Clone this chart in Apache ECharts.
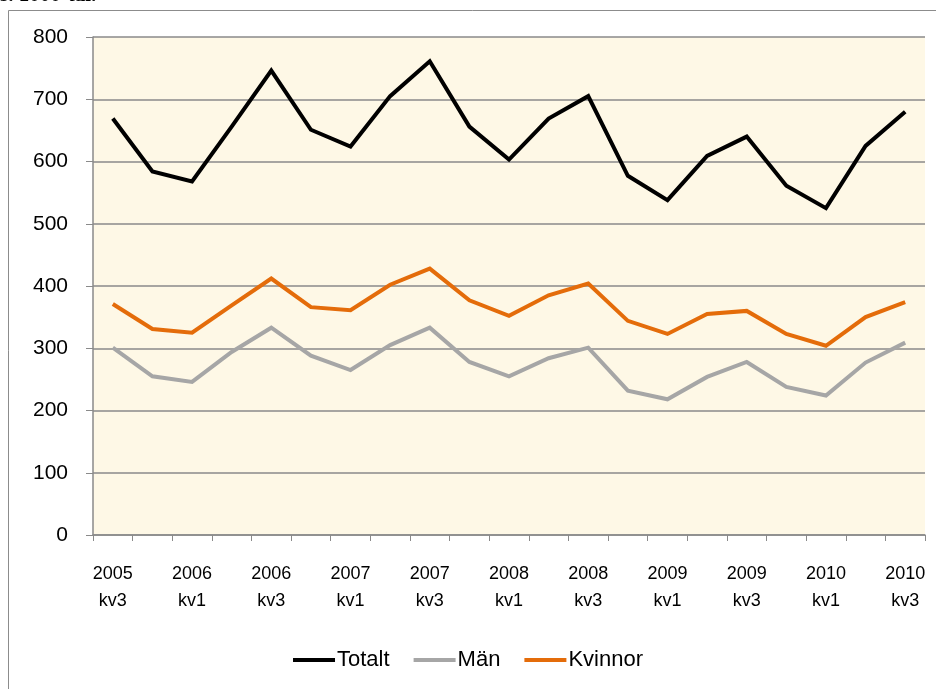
<!DOCTYPE html>
<html>
<head>
<meta charset="utf-8">
<script src="https://cdn.jsdelivr.net/npm/echarts@6/dist/echarts.min.js"></script>
<style>
  html, body { margin: 0; padding: 0; background: #fff; }
  #chart { width: 936px; height: 689px; }
</style>
</head>
<body>
<div id="chart"></div>
<script>
// kvartal 2005 kv3 - 2010 kv3
const categories = [
  '2005\nkv3', '2005\nkv4', '2006\nkv1', '2006\nkv2', '2006\nkv3', '2006\nkv4',
  '2007\nkv1', '2007\nkv2', '2007\nkv3', '2007\nkv4', '2008\nkv1', '2008\nkv2',
  '2008\nkv3', '2008\nkv4', '2009\nkv1', '2009\nkv2', '2009\nkv3', '2009\nkv4',
  '2010\nkv1', '2010\nkv2', '2010\nkv3'
]
const totalt = [669, 584, 568, 656, 746, 651, 624, 705, 761, 656, 603, 669, 705, 577, 538, 609, 640, 561, 525, 625, 680]
const man = [301, 255, 246, 294, 333, 288, 265, 305, 333, 278, 255, 284, 301, 232, 218, 254, 278, 238, 224, 277, 309]
const kvinnor = [371, 331, 325, 369, 412, 366, 361, 402, 428, 377, 352, 385, 404, 344, 323, 355, 360, 323, 304, 350, 374]
const yTicks = { min: 0, max: 800, interval: 100 }

const font = "'Liberation Sans', sans-serif"
const gridColor = '#8a8a8a'

const chart = echarts.init(document.getElementById('chart'))

const mkLine = (name, data, color) => ({
  name,
  type: 'line',
  data,
  symbol: 'none',
  lineStyle: { color, width: 4, join: 'miter' },
  itemStyle: { color }
})

chart.setOption({
  animation: false,
  backgroundColor: '#fff',
  graphic: [
    {
      type: 'rect',
      shape: { x: 8.5, y: 10.5, width: 940, height: 700 },
      style: { fill: 'none', stroke: '#8c8c8c', lineWidth: 1 },
      z: -1
    },
    {
      type: 'text',
      left: 0,
      top: -15,
      style: { text: 's. 1000-tal.', font: "bold 21px 'Liberation Serif', serif", fill: '#000' }
    }
  ],
  grid: {
    left: 93, right: 11, top: 37, bottom: 154,
    show: true,
    backgroundColor: '#fef8e6',
    borderWidth: 0
  },
  legend: {
    bottom: 13,
    left: 'center',
    icon: 'rect',
    itemWidth: 42,
    itemHeight: 4,
    itemGap: 24,
    textStyle: { fontFamily: font, fontSize: 22, color: '#000', padding: [0, 0, 0, -3] },
    data: ['Totalt', 'Män', 'Kvinnor']
  },
  xAxis: {
    type: 'category',
    data: categories,
    boundaryGap: true,
    axisLine: { lineStyle: { color: gridColor, width: 1.5 } },
    axisTick: { show: true, interval: 0, length: 6, lineStyle: { color: gridColor } },
    axisLabel: {
      interval: 1,
      margin: 26,
      fontFamily: font,
      fontSize: 18,
      lineHeight: 27,
      color: '#000'
    },
    splitLine: { show: false }
  },
  yAxis: {
    type: 'value',
    min: yTicks.min,
    max: yTicks.max,
    interval: yTicks.interval,
    axisLine: { show: true, lineStyle: { color: gridColor, width: 1.5 } },
    axisTick: { show: true, length: 7, lineStyle: { color: gridColor } },
    axisLabel: { margin: 25, fontFamily: font, fontSize: 21, color: '#000' },
    splitLine: { lineStyle: { color: gridColor, width: 1.5 } }
  },
  series: [
    mkLine('Totalt', totalt, '#000000'),
    mkLine('Män', man, '#a6a6a6'),
    mkLine('Kvinnor', kvinnor, '#e46c0a')
  ]
})
</script>
</body>
</html>
